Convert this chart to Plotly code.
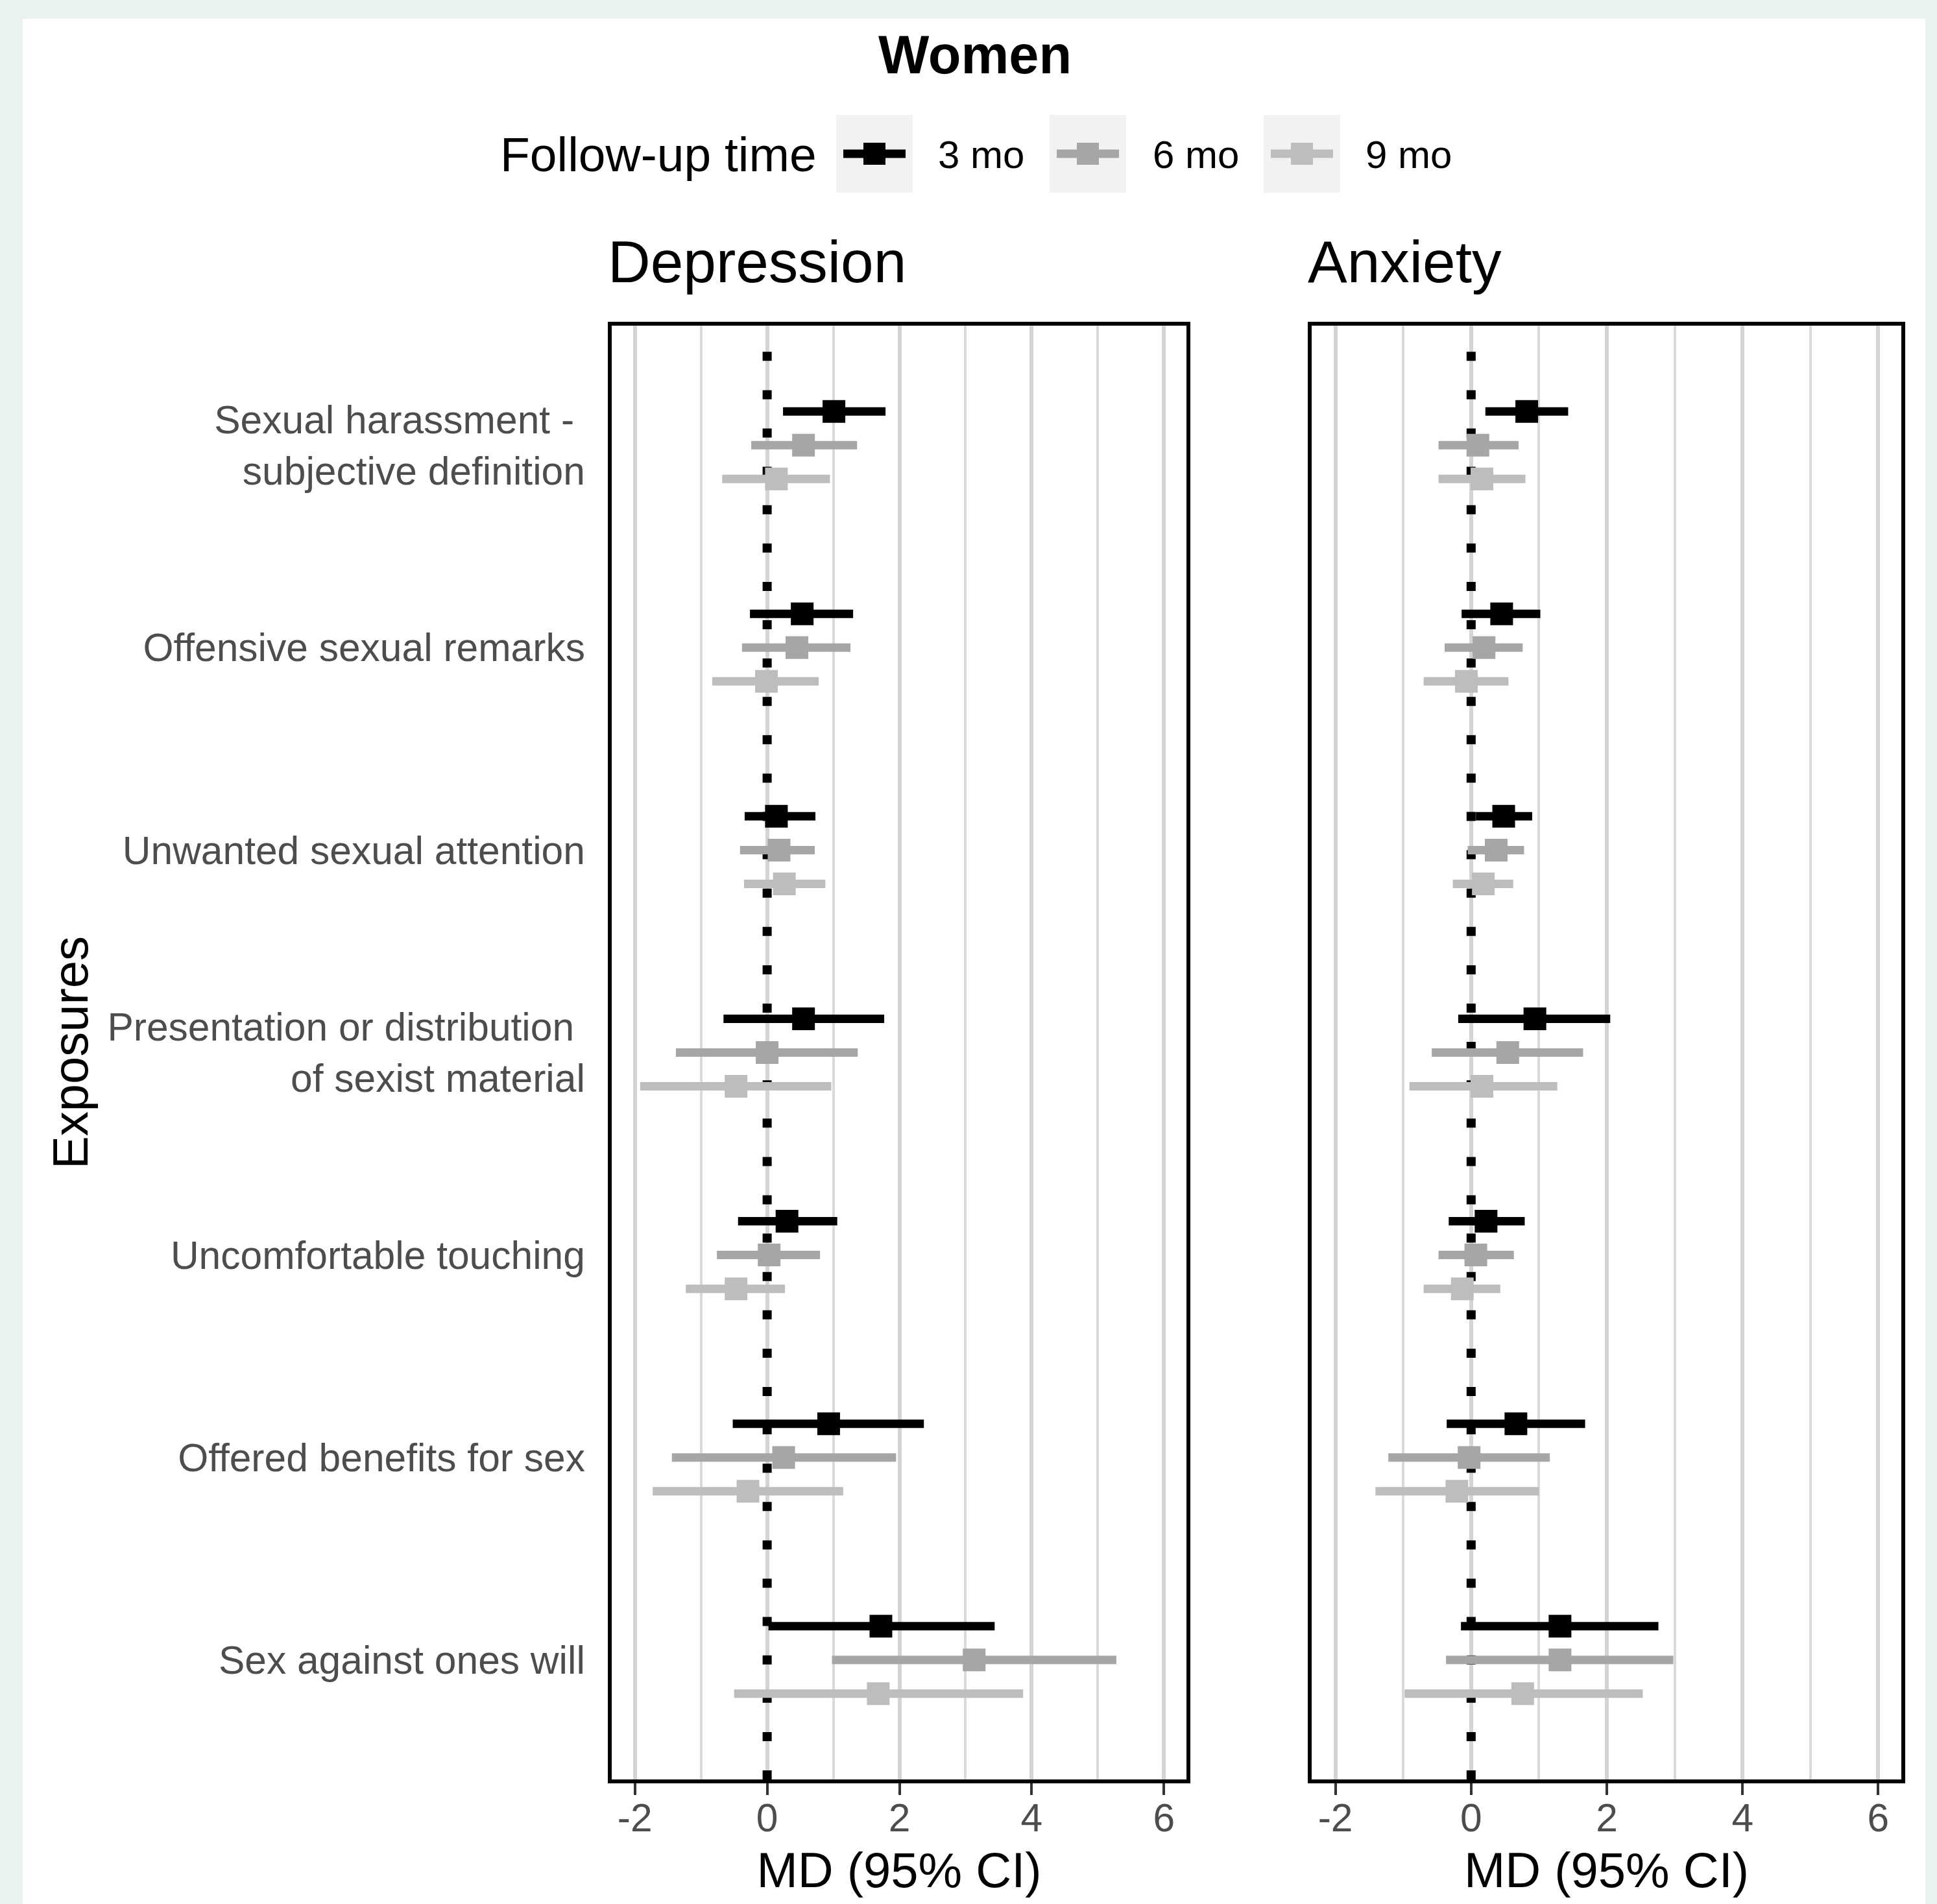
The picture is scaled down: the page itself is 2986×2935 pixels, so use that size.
import plotly.graph_objects as go

W, H = 2986, 2935

exposures = [
    "Sexual harassment -\u00a0<br>subjective definition",
    "Offensive sexual remarks",
    "Unwanted sexual attention",
    "Presentation or distribution\u00a0<br>of sexist material",
    "Uncomfortable touching",
    "Offered benefits for sex",
    "Sex against ones will",
]
followups = ["3 mo", "6 mo", "9 mo"]
colors = ["#000000", "#A6A6A6", "#BDBDBD"]

# Depression: estimates and 95% CI per follow-up time
dep_est_3 = [1.01, 0.53, 0.14, 0.55, 0.30, 0.93, 1.72]
dep_lo_3 = [0.24, -0.26, -0.34, -0.66, -0.44, -0.52, 0.02]
dep_hi_3 = [1.79, 1.30, 0.73, 1.77, 1.06, 2.37, 3.44]
dep_est_6 = [0.55, 0.45, 0.18, 0.00, 0.03, 0.25, 3.13]
dep_lo_6 = [-0.24, -0.38, -0.41, -1.38, -0.76, -1.44, 0.98]
dep_hi_6 = [1.36, 1.26, 0.72, 1.37, 0.80, 1.95, 5.28]
dep_est_9 = [0.14, -0.01, 0.26, -0.47, -0.47, -0.29, 1.68]
dep_lo_9 = [-0.68, -0.83, -0.35, -1.92, -1.23, -1.73, -0.50]
dep_hi_9 = [0.95, 0.78, 0.88, 0.97, 0.27, 1.15, 3.87]

# Anxiety
anx_est_3 = [0.82, 0.45, 0.48, 0.94, 0.22, 0.66, 1.31]
anx_lo_3 = [0.21, -0.14, 0.07, -0.19, -0.33, -0.36, -0.15]
anx_hi_3 = [1.43, 1.02, 0.90, 2.05, 0.79, 1.68, 2.76]
anx_est_6 = [0.10, 0.19, 0.37, 0.54, 0.07, -0.03, 1.31]
anx_lo_6 = [-0.48, -0.39, -0.05, -0.58, -0.48, -1.22, -0.37]
anx_hi_6 = [0.70, 0.76, 0.78, 1.65, 0.63, 1.16, 2.98]
anx_est_9 = [0.16, -0.07, 0.18, 0.16, -0.13, -0.21, 0.76]
anx_lo_9 = [-0.48, -0.70, -0.27, -0.91, -0.70, -1.41, -0.98]
anx_hi_9 = [0.80, 0.55, 0.62, 1.27, 0.43, 1.00, 2.53]

x_ticks = [-2, 0, 2, 4, 6]
x_tick_labels = ["-2", "0", "2", "4", "6"]
x_minor = [-1, 1, 3, 5]
X_RANGE = [-2.35, 6.34]
Y_RANGE = [6.59, -0.59]
DODGE = 1 / 6
REF_X = 0

panels = [
    ("Depression", [(dep_est_3, dep_lo_3, dep_hi_3), (dep_est_6, dep_lo_6, dep_hi_6), (dep_est_9, dep_lo_9, dep_hi_9)]),
    ("Anxiety", [(anx_est_3, anx_lo_3, anx_hi_3), (anx_est_6, anx_lo_6, anx_hi_6), (anx_est_9, anx_lo_9, anx_hi_9)]),
]

FONT = "Liberation Sans, Arial, sans-serif"
BASE = 76


def fx(p):
    return p / W


def fy(p):
    return 1 - p / H


fig = go.Figure()

for pi, (pname, series) in enumerate(panels):
    xa = "x" if pi == 0 else "x2"
    ya = "y" if pi == 0 else "y2"
    # dotted reference line at zero (drawn first, under the intervals)
    fig.add_trace(go.Scatter(
        x=[REF_X, REF_X], y=[Y_RANGE[0], Y_RANGE[1]], mode="lines", xaxis=xa, yaxis=ya,
        line=dict(color="black", width=14, dash="14px,45.1px"),
        showlegend=False, hoverinfo="skip", cliponaxis=False,
    ))
    for k, (est, lo, hi) in enumerate(series):
        ys = [i + (k - 1) * DODGE for i in range(len(exposures))]
        ci_x, ci_y = [], []
        for l, h, yy in zip(lo, hi, ys):
            ci_x += [l, h, None]
            ci_y += [yy, yy, None]
        fig.add_trace(go.Scatter(
            x=ci_x, y=ci_y, mode="lines", xaxis=xa, yaxis=ya,
            line=dict(color=colors[k], width=13),
            showlegend=False, legendgroup=followups[k], hoverinfo="skip",
        ))
        fig.add_trace(go.Scatter(
            x=est, y=ys, mode="markers", xaxis=xa, yaxis=ya,
            name=followups[k], legendgroup=followups[k],
            marker=dict(symbol="square", size=35, color=colors[k], line=dict(width=0)),
            showlegend=False,
        ))

x_dom = [[fx(943), fx(1829)], [fx(2022), fx(2931)]]
y_dom = [fy(2743), fy(502)]

common_x = dict(
    range=X_RANGE, tickvals=x_ticks, ticktext=x_tick_labels,
    ticks="outside", ticklen=18, tickwidth=4, tickcolor="#333333",
    tickfont=dict(size=60.5, color="#4D4D4D", family=FONT),
    showgrid=True, gridcolor="#D4D4D4", gridwidth=6,
    minor=dict(tickvals=x_minor, showgrid=True, gridcolor="#DADADA", gridwidth=3.5, ticks=""),
    showline=True, linecolor="black", linewidth=6, mirror=True,
    zeroline=False, automargin=False, ticklabelstandoff=-17,
    title=dict(text="MD (95% CI)", font=dict(size=BASE, color="black", family=FONT), standoff=23),
)
common_y = dict(
    range=Y_RANGE, tickvals=list(range(len(exposures))), ticktext=exposures,
    ticks="", showgrid=False, zeroline=False,
    showline=True, linecolor="black", linewidth=6, mirror=True,
    tickfont=dict(size=60.5, color="#4D4D4D", family=FONT),
    automargin=False, domain=y_dom,
)

fig.update_layout(
    width=W, height=H,
    margin=dict(l=0, r=0, t=0, b=0),
    paper_bgcolor="#EAF2F1", plot_bgcolor="white",
    font=dict(family=FONT, color="black"),
    template="none",
    title=dict(text="<b>Women</b>", x=fx(1503), xanchor="center", xref="paper",
               y=fy(84), yanchor="middle", yref="container",
               font=dict(size=83, color="black", family=FONT)),
    xaxis=dict(domain=x_dom[0], anchor="y", **common_x),
    xaxis2=dict(domain=x_dom[1], anchor="y2", **common_x),
    yaxis=dict(anchor="x", ticklabelstandoff=23,
               title=dict(text="Exposures", font=dict(size=BASE, color="black", family=FONT), standoff=7),
               **common_y),
    yaxis2=dict(anchor="x2", matches="y", showticklabels=False, **common_y),
    showlegend=False,
)

# background card, legend keys
shapes = [dict(type="rect", xref="paper", yref="paper", x0=fx(35), x1=fx(2968), y0=0, y1=fy(29),
               fillcolor="white", line=dict(width=0), layer="below")]
key_left = [1289, 1618, 1948]
KEY_W, KEY_TOP, KEY_BOT = 118, 177, 297
key_cy = (KEY_TOP + KEY_BOT) / 2
for k, kx in enumerate(key_left):
    cx = kx + KEY_W / 2
    shapes.append(dict(type="rect", xref="paper", yref="paper", x0=fx(kx), x1=fx(kx + KEY_W),
                       y0=fy(KEY_BOT), y1=fy(KEY_TOP), fillcolor="#F2F2F2", line=dict(width=0),
                       layer="below"))
    shapes.append(dict(type="line", xref="paper", yref="paper", x0=fx(cx - 48), x1=fx(cx + 48),
                       y0=fy(key_cy), y1=fy(key_cy), line=dict(color=colors[k], width=13)))
    shapes.append(dict(type="rect", xref="paper", yref="paper", x0=fx(cx - 17), x1=fx(cx + 17),
                       y0=fy(key_cy + 17), y1=fy(key_cy - 17), fillcolor=colors[k],
                       line=dict(width=0)))
fig.update_layout(shapes=shapes)

ann = []
for pi, (pname, _) in enumerate(panels):
    ann.append(dict(text=pname, x=x_dom[pi][0] - fx(8), xref="paper", xanchor="left",
                    y=fy(435 - 0.35 * 91), yref="paper", yanchor="middle",
                    showarrow=False, font=dict(size=91, color="black", family=FONT)))
ann.append(dict(text="Follow-up time", x=fx(769), xref="paper", xanchor="left",
                y=fy(264 - 0.35 * 75), yref="paper", yanchor="middle",
                showarrow=False, font=dict(size=75, color="black", family=FONT)))
text_left = [1444, 1775, 2103]
for k, fu in enumerate(followups):
    ann.append(dict(text=fu, x=fx(text_left[k]), xref="paper", xanchor="left",
                    y=fy(259 - 0.35 * 60), yref="paper", yanchor="middle",
                    showarrow=False, font=dict(size=60, color="black", family=FONT)))
fig.update_layout(annotations=ann)

fig.write_html(
    "out.html",
    config={"displayModeBar": False},
    post_script="document.body.style.margin='0';document.body.style.background='#EAF2F1';",
)
